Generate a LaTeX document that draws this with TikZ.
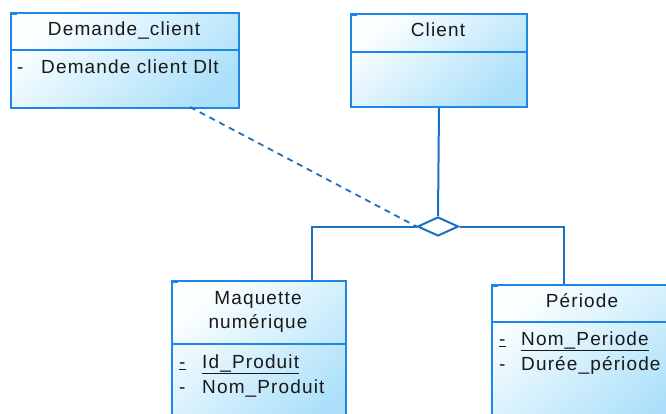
\documentclass[tikz,border=0pt]{standalone}
\usepackage{fontspec}
\setmainfont[LetterSpace=6]{Liberation Sans}
\usetikzlibrary{shapes.geometric,calc}
\definecolor{bordc}{RGB}{30,134,230}
\definecolor{linec}{RGB}{28,112,196}
\definecolor{filla}{RGB}{252,255,255}
\definecolor{fillb}{RGB}{172,224,250}
\tikzset{
  umlbox/.style={draw=bordc, line width=2pt, inner sep=0pt, anchor=north west,
    top color=filla, bottom color=fillb, shading angle=40},
  sepline/.style={draw=bordc, line width=2pt},
  tick/.style={draw=bordc, line width=1.6pt},
  conn/.style={draw=linec, line width=2pt},
  dconn/.style={draw=linec, line width=1.8pt, dash pattern=on 6pt off 5pt},
  lbl/.style={font=\fontsize{19}{22}\selectfont, inner sep=0pt, anchor=base, text=black!90},
  attr/.style={lbl, anchor=base west},
  rel/.style={diamond, draw=linec, line width=2pt, fill=white, inner sep=0pt,
    minimum width=41pt, minimum height=19pt}
}
\begin{document}
\begin{tikzpicture}[x=1pt,y=-1pt]
\useasboundingbox (0,0) rectangle (666,414);
\clip (0,0) rectangle (666,414);
% boxes
\node[umlbox, minimum width=228pt, minimum height=95pt] (dem) at (10,12) {};
\node[umlbox, minimum width=176pt, minimum height=93pt] (cli) at (350,13) {};
\node[umlbox, minimum width=174pt, minimum height=150pt] (maq) at (171,280) {};
\node[umlbox, minimum width=182pt, minimum height=150pt] (per) at (491,284) {};
% separators
\draw[sepline] (10,50) -- (239,50);
\draw[sepline] (350,52) -- (527,52);
\draw[sepline] (171,344) -- (346,344);
\draw[sepline] (491,322) -- (673,322);
% corner ticks
\draw[tick] (11,14) -- (17,14);
\draw[tick] (351,15) -- (357,15);
\draw[tick] (172,282) -- (178,282);
\draw[tick] (492,286) -- (498,286);
% texts
\node[lbl] (t1) at (124,36) {Demande\_client};
\node[attr] (t1a) at (17,74) {-};
\node[attr] (t1b) at (41,74) {Demande client Dlt};
\node[lbl] (t2) at (438,37) {Client};
\node[lbl] (t3) at (258,304) {Maquette};
\node[lbl] (t3b) at (258,328) {numérique};
\node[attr] (t3c) at (179,368) {\underline{-}};
\node[attr] (t3d) at (202,368) {\underline{Id\_Produit}};
\node[attr] (t3e) at (179,393) {-};
\node[attr] (t3f) at (202,393) {Nom\_Produit};
\node[lbl] (t4) at (582,307) {Période};
\node[attr] (t4c) at (499,345) {\underline{-}};
\node[attr] (t4d) at (521,345) {\underline{Nom\_Periode}};
\node[attr] (t4e) at (499,370) {-};
\node[attr] (t4f) at (521,370) {Durée\_période};
% relation
\node[rel] (dia) at (438,226.5) {};
\coordinate (maqtop) at (312,280);
\coordinate (pertop) at (564,284);
\coordinate (demout) at (190,107);
\draw[conn] (cli.south) -- (dia.north);
\draw[conn] (dia.west) -| (maqtop);
\draw[conn] (dia.east) -| (pertop);
\draw[dconn] (demout) -- (dia.west);
\end{tikzpicture}
\end{document}
